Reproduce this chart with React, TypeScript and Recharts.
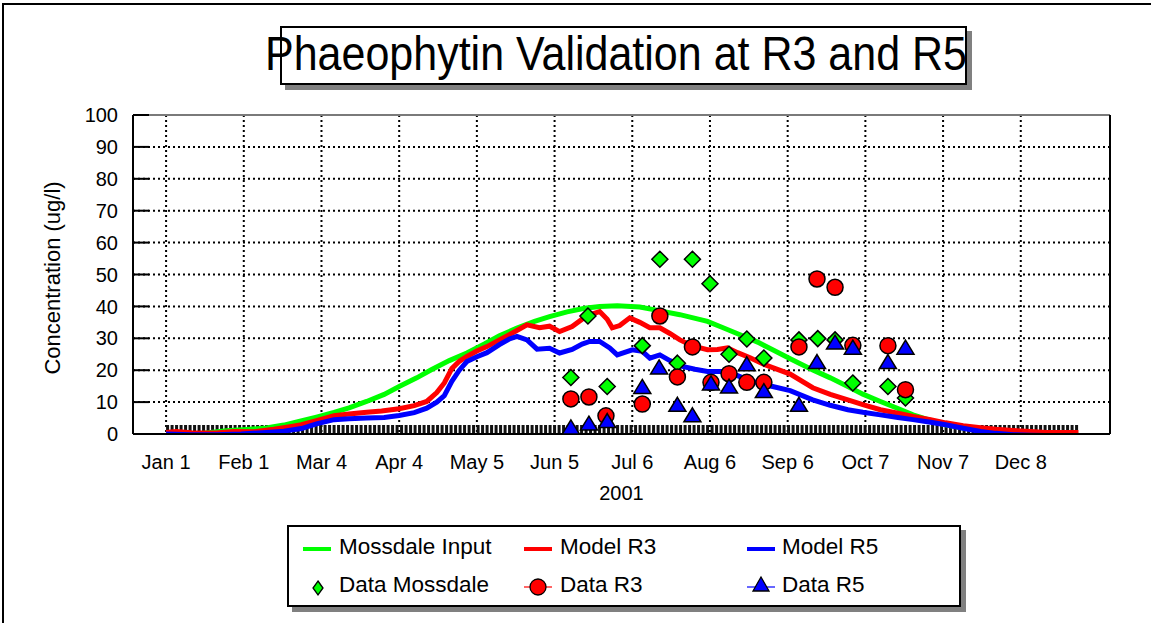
import React from 'react'
import {
  ComposedChart,
  Line,
  Scatter,
  XAxis,
  YAxis,
  CartesianGrid,
  ReferenceLine,
} from 'recharts'

// x axis is "day of 2001", Jan 1 = 0
const tickDays = [0, 31, 62, 93, 124, 155, 186, 217, 248, 279, 310, 341]
const tickLabels = ['Jan 1', 'Feb 1', 'Mar 4', 'Apr 4', 'May 5', 'Jun 5', 'Jul 6', 'Aug 6', 'Sep 6', 'Oct 7', 'Nov 7', 'Dec 8']
const yTicks = [0, 10, 20, 30, 40, 50, 60, 70, 80, 90, 100]
const dayDomain = [-13.2, 376.6]

// Model curves
const mossdaleInputDays = [0, 8, 16, 24, 32, 40, 47, 53, 60, 67, 73, 80, 87, 93, 100, 106, 113, 120, 127, 133, 140, 147, 153, 160, 167, 173, 180, 189, 195, 205, 216, 222, 229, 236, 242, 249, 258, 265, 272, 278, 285, 292, 298, 305, 311, 318, 325, 331, 338, 345, 351, 358, 364]
const mossdaleInputVals = [-0.6, -0.3, 0.3, 1.0, 1.4, 1.9, 2.8, 3.9, 5.3, 6.8, 8.2, 10.2, 12.4, 14.9, 17.6, 20.2, 23, 25.4, 28.2, 30.8, 33.2, 35.3, 36.8, 38.3, 39.4, 40, 40.2, 39.8, 38.9, 37.4, 35.3, 33.4, 31.1, 28.8, 26.4, 23.6, 20.1, 17.6, 14.9, 12.5, 10.2, 8.0, 6.0, 4.3, 2.9, 1.9, 1.3, 0.4, -0.5, -0.8, -0.8, -0.5, -0.3]

const modelR3Days = [0, 4, 10, 20, 27, 35, 43, 50, 54, 60, 67, 73, 80, 86, 93, 99, 104, 108, 111, 114, 117, 120, 124, 128, 133, 138, 144, 149, 153, 157, 162, 166, 169, 173, 176, 178, 181, 185, 189, 193, 197, 201, 205, 210, 216, 220, 224, 228, 233, 238, 242, 249, 258, 265, 272, 278, 285, 292, 298, 305, 311, 318, 325, 331, 338, 345, 351, 358, 364]
const modelR3Vals = [0.5, 0.8, 0.4, 0.3, 0.8, 0.7, 1.5, 2.4, 2.9, 4.2, 5.7, 6.3, 6.8, 7.2, 7.9, 8.9, 10.2, 13, 16, 20.5, 22.8, 24.3, 26, 27.4, 29.5, 31.6, 34.2, 33.3, 33.8, 32.1, 33.7, 36, 37.4, 38.4, 36, 33.3, 34, 36.4, 35, 33.3, 33.3, 31.5, 29.5, 27.6, 26.4, 26.5, 27, 25.5, 23.9, 22, 20.8, 18.8, 14.5, 12.4, 10.7, 9.2, 7.6, 6.5, 5.5, 4.5, 3.5, 2.6, 2.0, 1.5, 1.1, 0.8, 0.5, 0.5, 0.5]

const modelR5Days = [0, 10, 20, 30, 40, 47, 54, 60, 67, 73, 80, 87, 93, 99, 104, 108, 111, 114, 117, 120, 124, 128, 133, 137, 140, 144, 148, 153, 157, 162, 166, 169, 173, 177, 180, 186, 190, 193, 197, 201, 206, 211, 216, 224, 228, 232, 237, 242, 249, 258, 265, 272, 278, 285, 292, 298, 305, 311, 318, 325, 331, 338, 345, 351, 358, 364]
const modelR5Vals = [0, -0.2, -0.2, 0, 0.5, 0.9, 1.7, 3.2, 4.5, 4.8, 5.0, 5.2, 5.8, 6.7, 8.1, 10, 12, 16.5, 20, 22.7, 24.2, 25.5, 28, 29.8, 30.6, 29.5, 26.6, 26.9, 25.4, 26.5, 28.2, 29, 29, 27, 24.8, 26.4, 25.9, 23.8, 24.8, 23, 21.2, 20.3, 19.6, 19.6, 18.3, 17, 15.8, 14.9, 13.6, 10.7, 9.0, 7.6, 6.8, 6.0, 5.2, 4.5, 3.7, 2.9, 1.8, 0.8, 0.2, -0.2, -0.4, -0.5, -0.5, -0.5]

// Field data
const dataMossdaleDays = [161.5, 168.3, 176, 190, 197, 204, 210, 217, 224.6, 231.7, 238.5, 252.5, 260, 266.9, 274, 288, 295]
const dataMossdaleVals = [17.7, 37.0, 14.9, 27.7, 54.8, 22.2, 54.8, 47.1, 25.0, 29.8, 23.8, 29.5, 29.9, 29.5, 16.0, 14.9, 11.3]

const dataR3Days = [161.5, 168.7, 175.5, 190, 197, 204, 210, 217.4, 224.6, 231.7, 238.5, 252.5, 259.7, 266.9, 274, 288, 295]
const dataR3Vals = [11.0, 11.6, 5.7, 9.4, 37.0, 17.9, 27.3, 16.2, 18.9, 16.2, 16.2, 27.3, 48.6, 46.0, 27.8, 27.7, 13.9]

const dataR5Days = [161.5, 168.7, 176, 190, 196.7, 204, 210, 217.4, 224.6, 231.7, 238.5, 252.5, 259.7, 266.9, 274, 288, 295]
const dataR5Vals = [1.9, 3.1, 3.9, 14.6, 20.7, 9.0, 5.7, 15.7, 14.7, 21.7, 13.3, 9.0, 22.4, 28.5, 26.9, 22.4, 26.9]

const GREEN = '#00ff00'
const RED = '#ff0000'
const BLUE = '#0000ff'
const FONT = '"Liberation Sans", Arial, sans-serif'

const toPoints = (days: number[], vals: number[]) =>
  days.map((day, i) => ({ day, v: vals[i] }))

const mossdaleInput = toPoints(mossdaleInputDays, mossdaleInputVals)
const modelR3 = toPoints(modelR3Days, modelR3Vals)
const modelR5 = toPoints(modelR5Days, modelR5Vals)
const dataMossdale = toPoints(dataMossdaleDays, dataMossdaleVals)
const dataR3 = toPoints(dataR3Days, dataR3Vals)
const dataR5 = toPoints(dataR5Days, dataR5Vals)

const Diamond = ({ cx, cy }: any) => (
  <polygon
    points={`${cx},${cy - 8} ${cx + 8},${cy} ${cx},${cy + 8} ${cx - 8},${cy}`}
    fill={GREEN}
    stroke='#000'
    strokeWidth={1.5}
  />
)

const Dot = ({ cx, cy }: any) => (
  <circle cx={cx} cy={cy} r={8} fill={RED} stroke='#000' strokeWidth={1.5} />
)

const Triangle = ({ cx, cy }: any) => (
  <polygon
    points={`${cx},${cy - 8} ${cx + 8.5},${cy + 6} ${cx - 8.5},${cy + 6}`}
    fill={BLUE}
    stroke='#000'
    strokeWidth={1.5}
  />
)

const legendText: React.CSSProperties = {
  position: 'absolute',
  fontSize: 22.5,
  lineHeight: '26px',
  color: '#000',
  whiteSpace: 'nowrap',
}

function LegendBox() {
  return (
    <div
      style={{
        position: 'absolute',
        left: 287,
        top: 525,
        width: 670,
        height: 78,
        border: '2px solid #000',
        background: '#fff',
        boxShadow: '5px 5px 0 #808080',
        fontFamily: FONT,
      }}
    >
      <svg width={670} height={78} style={{ position: 'absolute', left: 0, top: 0 }}>
        <line x1={14} y1={22} x2={42} y2={22} stroke={GREEN} strokeWidth={4} />
        <line x1={235} y1={22} x2={263} y2={22} stroke={RED} strokeWidth={4} />
        <line x1={458} y1={22} x2={486} y2={22} stroke={BLUE} strokeWidth={4} />
        <polygon points='29,54 34,61 29,68 24,61' fill={GREEN} stroke='#000' strokeWidth={1.3} />
        <line x1={235} y1={60} x2={263} y2={60} stroke={RED} strokeWidth={1.2} />
        <circle cx={249} cy={60} r={8} fill={RED} stroke='#000' strokeWidth={1.3} />
        <line x1={458} y1={60} x2={486} y2={60} stroke={BLUE} strokeWidth={1.2} />
        <polygon points='472,50 480,64 464,64' fill={BLUE} stroke='#000' strokeWidth={1.3} />
      </svg>
      <div style={{ ...legendText, left: 50, top: 7 }}>Mossdale Input</div>
      <div style={{ ...legendText, left: 271, top: 7 }}>Model R3</div>
      <div style={{ ...legendText, left: 493, top: 7 }}>Model R5</div>
      <div style={{ ...legendText, left: 50, top: 45 }}>Data Mossdale</div>
      <div style={{ ...legendText, left: 271, top: 45 }}>Data R3</div>
      <div style={{ ...legendText, left: 493, top: 45 }}>Data R5</div>
    </div>
  )
}

export default function App() {
  return (
    <div
      style={{
        position: 'absolute',
        left: 0,
        top: 0,
        width: 1151,
        height: 623,
        background: '#fff',
        overflow: 'hidden',
        fontFamily: FONT,
      }}
    >
      {/* outer frame */}
      <div
        style={{
          position: 'absolute',
          left: 2,
          top: 3,
          width: 1160,
          height: 640,
          borderLeft: '2px solid #000',
          borderTop: '2px solid #000',
        }}
      />

      <ComposedChart
        width={1151}
        height={623}
        margin={{ top: 115, right: 41, bottom: 119, left: 0 }}
        style={{ position: 'absolute', left: 0, top: 0 }}
      >
        <CartesianGrid stroke='#000' strokeWidth={2} strokeDasharray='2 3' />
        <XAxis
          dataKey='day'
          type='number'
          domain={dayDomain}
          ticks={tickDays}
          tickFormatter={(d: number) => tickLabels[tickDays.indexOf(d)] ?? ''}
          allowDataOverflow
          height={70}
          tickLine={false}
          tickSize={8}
          tickMargin={13}
          axisLine={{ stroke: '#000', strokeWidth: 2 }}
          tick={{ fontSize: 20, fill: '#000', fontFamily: FONT }}
          label={{ value: '2001', position: 'insideBottom', offset: 4, fontSize: 20, fill: '#000', fontFamily: FONT }}
        />
        <YAxis
          type='number'
          domain={[0, 100]}
          ticks={yTicks}
          allowDataOverflow
          width={133}
          tickSize={-16}
          tickMargin={31}
          tickLine={{ stroke: '#000', strokeWidth: 2 }}
          axisLine={{ stroke: '#000', strokeWidth: 2 }}
          tick={{ fontSize: 20, fill: '#000', fontFamily: FONT }}
          label={{
            content: () => (
              <text
                x={52}
                y={278}
                transform='rotate(-90 52 278)'
                textAnchor='middle'
                dominantBaseline='central'
                fontSize={22}
                fontFamily={FONT}
                fill='#000'
              >
                Concentration (ug/l)
              </text>
            ),
          }}
        />
        <ReferenceLine y={100} stroke='#7a7a7a' strokeWidth={2} />
        <ReferenceLine x={dayDomain[1]} stroke='#000' strokeWidth={2} />
        <ReferenceLine
          segment={[{ x: 0, y: 1.4 }, { x: 364, y: 1.4 }]}
          stroke='#111'
          strokeWidth={9}
          strokeDasharray='3 1.5'
        />
        <Line data={mossdaleInput} dataKey='v' stroke={GREEN} strokeWidth={5} dot={false} isAnimationActive={false} />
        <Line data={modelR3} dataKey='v' stroke={RED} strokeWidth={5} dot={false} isAnimationActive={false} />
        <Line data={modelR5} dataKey='v' stroke={BLUE} strokeWidth={5} dot={false} isAnimationActive={false} />
        <Scatter data={dataMossdale} dataKey='v' shape={Diamond} isAnimationActive={false} />
        <Scatter data={dataR3} dataKey='v' shape={Dot} isAnimationActive={false} />
        <Scatter data={dataR5} dataKey='v' shape={Triangle} isAnimationActive={false} />
      </ComposedChart>

      {/* title */}
      <div
        style={{
          position: 'absolute',
          left: 280,
          top: 26,
          width: 683,
          height: 55,
          border: '2px solid #000',
          background: '#fff',
          boxShadow: '5px 5px 0 #808080',
        }}
      />
      <div
        style={{
          position: 'absolute',
          left: 265,
          top: 30,
          fontSize: 43,
          lineHeight: '43px',
          whiteSpace: 'nowrap',
          color: '#000',
          transform: 'scaleY(1.12)',
          transformOrigin: 'top left',
        }}
      >
        Phaeophytin Validation at R3 and R5
      </div>

      <LegendBox />
    </div>
  )
}
